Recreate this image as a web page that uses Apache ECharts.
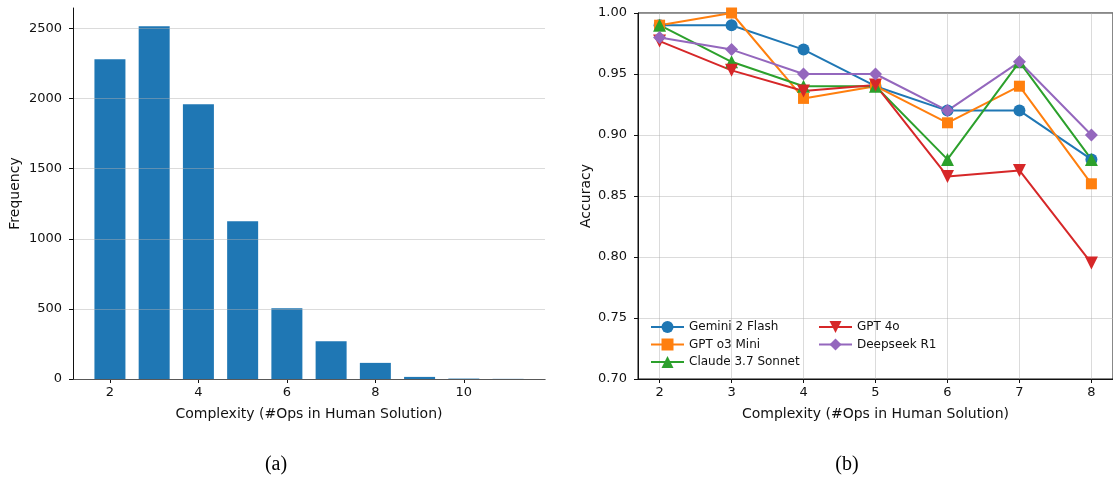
<!DOCTYPE html>
<html>
<head>
<meta charset="utf-8">
<script src="https://cdn.jsdelivr.net/npm/echarts@6/dist/echarts.min.js"></script>
<style>
  html, body { margin: 0; padding: 0; background: #fff; }
  #chart { width: 1113px; height: 478px; }
</style>
</head>
<body>
<div id="chart"></div>
<script>
// (a) histogram of complexity
const complexity = [2, 3, 4, 5, 6, 7, 8, 9, 10, 11]
const frequency = [2280, 2515, 1960, 1125, 505, 270, 115, 15, 3, 1]
const freqTicks = [0, 500, 1000, 1500, 2000, 2500]
const complexityTicks = [2, 4, 6, 8, 10]

// (b) accuracy per model
const opsSteps = [2, 3, 4, 5, 6, 7, 8]
const gemini = [0.99, 0.99, 0.97, 0.94, 0.92, 0.92, 0.88]
const o3mini = [0.99, 1.0, 0.93, 0.94, 0.91, 0.94, 0.86]
const claude = [0.99, 0.96, 0.94, 0.94, 0.88, 0.96, 0.88]
const gpt4o = [0.977, 0.953, 0.936, 0.941, 0.866, 0.871, 0.795]
const deepseek = [0.98, 0.97, 0.95, 0.95, 0.92, 0.96, 0.90]

const FONT = 'DejaVu Sans'
const tickStyle = { color: '#111', fontFamily: FONT, fontSize: 13 }
const nameStyle = { color: '#111', fontFamily: FONT, fontSize: 14 }
const gridLine = { show: true, lineStyle: { color: 'rgba(176,176,176,0.45)', width: 1 } }
const axLine = { show: true, lineStyle: { color: '#111', width: 1 } }
const axTick = (vals) => ({ show: true, inside: false, length: 4, customValues: vals, lineStyle: { color: '#111', width: 1 } })

function zip(xs, ys) {
  return xs.map((x, i) => [x, ys[i]])
}

function lineSeries(name, data, color, symbol, rotate) {
  return {
    name: name,
    type: 'line',
    xAxisIndex: 1,
    yAxisIndex: 1,
    data: zip(opsSteps, data),
    symbol: symbol,
    symbolRotate: rotate || 0,
    symbolSize: symbol === 'rect' ? 11 : (symbol === 'circle' ? 12 : 13),
    itemStyle: { color: color },
    lineStyle: { color: color, width: 2 },
    z: 3
  }
}

const legendText = { color: '#111', fontFamily: FONT, fontSize: 12 }

const chart = echarts.init(document.getElementById('chart'), null, { renderer: 'canvas' })
chart.setOption({
  animation: false,
  grid: [
    { left: 73, top: 8, width: 472, height: 371 },
    { left: 638, top: 13, width: 478, height: 366, show: true, borderColor: '#111', borderWidth: 1, backgroundColor: 'transparent' }
  ],
  xAxis: [
    {
      gridIndex: 0,
      type: 'value',
      min: 1.165,
      max: 11.835,
      axisLine: axLine,
      axisTick: axTick(complexityTicks),
      axisLabel: Object.assign({ customValues: complexityTicks, margin: 7 }, tickStyle),
      splitLine: { show: false },
      name: 'Complexity (#Ops in Human Solution)',
      nameLocation: 'middle',
      nameGap: 28,
      nameTextStyle: nameStyle
    },
    {
      gridIndex: 1,
      type: 'value',
      min: 1.7,
      max: 8.3,
      axisLine: axLine,
      axisTick: axTick(opsSteps),
      axisLabel: Object.assign({ customValues: opsSteps, margin: 7 }, tickStyle),
      splitLine: gridLine,
      name: 'Complexity (#Ops in Human Solution)',
      nameLocation: 'middle',
      nameGap: 28,
      nameTextStyle: nameStyle
    }
  ],
  yAxis: [
    {
      gridIndex: 0,
      type: 'value',
      min: 0,
      max: 2646,
      z: 4,
      axisLine: axLine,
      axisTick: axTick(freqTicks),
      axisLabel: Object.assign({ customValues: freqTicks, margin: 11, formatter: v => String(v) }, tickStyle),
      splitLine: gridLine,
      name: 'Frequency',
      nameLocation: 'middle',
      nameRotate: 90,
      nameGap: 51,
      nameTextStyle: nameStyle
    },
    {
      gridIndex: 1,
      type: 'value',
      min: 0.7,
      max: 1.0,
      interval: 0.05,
      axisLine: axLine,
      axisTick: { show: true, length: 4, lineStyle: { color: '#111', width: 1 } },
      axisLabel: Object.assign({ margin: 11, formatter: v => v.toFixed(2) }, tickStyle),
      splitLine: gridLine,
      name: 'Accuracy',
      nameLocation: 'middle',
      nameRotate: 90,
      nameGap: 45,
      nameTextStyle: nameStyle
    }
  ],
  legend: [
    {
      data: ['Gemini 2 Flash', 'GPT o3 Mini', 'Claude 3.7 Sonnet'],
      orient: 'vertical',
      left: 645,
      top: 316,
      itemWidth: 33,
      itemHeight: 15,
      itemGap: 5.5,
      textStyle: legendText
    },
    {
      data: ['GPT 4o', 'Deepseek R1'],
      orient: 'vertical',
      left: 813,
      top: 316,
      itemWidth: 33,
      itemHeight: 15,
      itemGap: 5.5,
      textStyle: legendText
    }
  ],
  series: [
    {
      type: 'bar',
      xAxisIndex: 0,
      yAxisIndex: 0,
      data: zip(complexity, frequency),
      barWidth: 31,
      itemStyle: { color: '#1f77b4' },
      z: 2
    },
    lineSeries('Gemini 2 Flash', gemini, '#1f77b4', 'circle'),
    lineSeries('GPT o3 Mini', o3mini, '#ff7f0e', 'rect'),
    lineSeries('Claude 3.7 Sonnet', claude, '#2ca02c', 'triangle'),
    lineSeries('GPT 4o', gpt4o, '#d62728', 'triangle', 180),
    lineSeries('Deepseek R1', deepseek, '#9467bd', 'diamond')
  ],
  graphic: [
    { type: 'text', x: 276, y: 465, style: { text: '(a)', font: '20px "Liberation Serif"', fill: '#000', textAlign: 'center', textVerticalAlign: 'middle' } },
    { type: 'text', x: 847, y: 465, style: { text: '(b)', font: '20px "Liberation Serif"', fill: '#000', textAlign: 'center', textVerticalAlign: 'middle' } }
  ]
})
</script>
</body>
</html>
